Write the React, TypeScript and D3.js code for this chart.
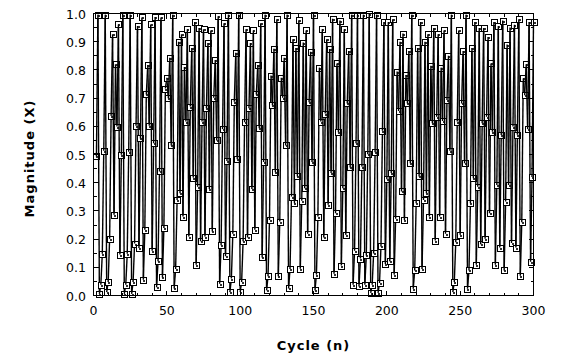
import { useEffect, useRef } from 'react'
import * as d3 from 'd3'

// Magnitude (X); the series starts at cycle 2 and runs to 300
const FIRST_CYCLE = 2
const MAGNITUDE = [
  0.493, 0.996, 0.006, 0.038, 0.148, 0.513, 0.996, 0.012,
  0.048, 0.201, 0.637, 0.926, 0.286, 0.82, 0.599, 0.961, 0.145, 0.499,
  0.996, 0.006, 0.038, 0.148, 0.51, 0.996, 0.006, 0.048, 0.184, 0.602,
  0.956, 0.168, 0.557, 0.986, 0.056, 0.233, 0.713, 0.817, 0.602, 0.961,
  0.159, 0.54, 0.988, 0.029, 0.121, 0.44, 0.986, 0.064, 0.239, 0.734,
  0.772, 0.699, 0.843, 0.532, 0.996, 0.025, 0.094, 0.339, 0.9, 0.363,
  0.926, 0.28, 0.81, 0.617, 0.944, 0.209, 0.67, 0.878, 0.418, 0.97,
  0.109, 0.386, 0.949, 0.192, 0.617, 0.944, 0.209, 0.664, 0.895, 0.378,
  0.94, 0.227, 0.701, 0.835, 0.55, 0.99, 0.042, 0.178, 0.59, 0.965,
  0.139, 0.477, 0.996, 0.012, 0.06, 0.219, 0.687, 0.861, 0.483, 0.996,
  0.012, 0.048, 0.192, 0.614, 0.944, 0.206, 0.664, 0.895, 0.378, 0.94,
  0.233, 0.713, 0.817, 0.593, 0.965, 0.135, 0.473, 0.996, 0.018, 0.068,
  0.268, 0.78, 0.675, 0.875, 0.437, 0.98, 0.068, 0.262, 0.772, 0.701,
  0.843, 0.532, 0.996, 0.025, 0.094, 0.351, 0.909, 0.327, 0.878, 0.422,
  0.976, 0.095, 0.336, 0.897, 0.38, 0.94, 0.219, 0.685, 0.864, 0.473,
  0.996, 0.018, 0.074, 0.28, 0.808, 0.617, 0.944, 0.206, 0.645, 0.909,
  0.322, 0.874, 0.434, 0.981, 0.077, 0.292, 0.823, 0.579, 0.975, 0.106,
  0.38, 0.944, 0.215, 0.681, 0.867, 0.454, 0.996, 0.038, 0.159, 0.54,
  0.996, 0.032, 0.131, 0.457, 0.996, 0.038, 0.142, 0.501, 1.0, 0.009,
  0.038, 0.149, 0.508, 0.996, 0.009, 0.044, 0.174, 0.584, 0.97, 0.112,
  0.412, 0.97, 0.121, 0.434, 0.98, 0.074, 0.272, 0.794, 0.654, 0.9,
  0.369, 0.929, 0.268, 0.782, 0.681, 0.867, 0.469, 0.996, 0.024, 0.089,
  0.327, 0.878, 0.422, 0.97, 0.094, 0.339, 0.9, 0.363, 0.926, 0.28,
  0.815, 0.611, 0.949, 0.195, 0.634, 0.926, 0.28, 0.808, 0.619, 0.94,
  0.219, 0.693, 0.85, 0.513, 0.996, 0.012, 0.048, 0.189, 0.617, 0.94,
  0.215, 0.681, 0.867, 0.469, 0.996, 0.024, 0.089, 0.327, 0.878, 0.416,
  0.97, 0.109, 0.386, 0.949, 0.182, 0.611, 0.949, 0.201, 0.634, 0.917,
  0.292, 0.823, 0.581, 0.97, 0.109, 0.392, 0.956, 0.17, 0.569, 0.975,
  0.089, 0.333, 0.89, 0.392, 0.95, 0.186, 0.599, 0.96, 0.17, 0.57,
  0.98, 0.07, 0.26, 0.77, 0.71, 0.82, 0.59, 0.97, 0.12, 0.42, 0.97,
]

const X_TICKS = [0, 50, 100, 150, 200, 250, 300]
const Y_TICKS = [0, 0.1, 0.2, 0.3, 0.4, 0.5, 0.6, 0.7, 0.8, 0.9, 1.0]

const W = 568
const H = 361
const LABEL_FONT = '"DejaVu Sans", Verdana, sans-serif'

export default function App() {
  const svgRef = useRef<SVGSVGElement | null>(null)

  useEffect(() => {
    if (!svgRef.current) return
    const svg = d3.select(svgRef.current)
    svg.selectAll('*').remove()

    const x = d3.scaleLinear().domain([0, 300]).range([93.5, 533.5])
    const y = d3.scaleLinear().domain([0, 1]).range([295.5, 13.5])
    const [x0, x1] = x.range()
    const [yb, yt] = y.range()

    const pts = MAGNITUDE.map((v, i) => ({ n: FIRST_CYCLE + i, v }))
    const plot = svg.append('g')

    // series: each segment, then its marker, so later lines run over earlier boxes
    pts.forEach((p, i) => {
      if (i > 0) {
        const q = pts[i - 1]
        plot.append('line')
          .attr('x1', x(q.n)).attr('y1', y(q.v))
          .attr('x2', x(p.n)).attr('y2', y(p.v))
          .attr('stroke', '#000').attr('stroke-width', 1.4)
      }
      const m = plot.append('g')
        .attr('transform', `translate(${Math.round(x(p.n))},${Math.round(y(p.v))})`)
        .attr('shape-rendering', 'crispEdges')
      m.append('rect')
        .attr('x', -2.5).attr('y', -2.5).attr('width', 6).attr('height', 6)
        .attr('fill', '#fff').attr('stroke', '#000').attr('stroke-width', 1)
      m.append('rect')
        .attr('x', -0.5).attr('y', -0.5).attr('width', 2).attr('height', 2)
        .attr('fill', '#333')
    })

    // frame
    svg.append('rect')
      .attr('x', x0).attr('y', yt)
      .attr('width', x1 - x0).attr('height', yb - yt)
      .attr('fill', 'none').attr('stroke', '#000').attr('stroke-width', 1)
      .attr('shape-rendering', 'crispEdges')

    const ticks = svg.append('g').attr('stroke', '#000').attr('shape-rendering', 'crispEdges')

    // x ticks every 10, inward on bottom and top
    d3.range(0, 301, 10).forEach(t => {
      const len = t % 50 === 0 ? 5 : 3
      ticks.append('line').attr('x1', x(t)).attr('x2', x(t)).attr('y1', yb).attr('y2', yb - len)
      ticks.append('line').attr('x1', x(t)).attr('x2', x(t)).attr('y1', yt).attr('y2', yt + len)
    })
    // y ticks every 0.05, inward on left and right
    d3.range(0, 21).forEach(k => {
      const t = k / 20
      const len = k % 2 === 0 ? 5 : 3
      ticks.append('line').attr('x1', x0).attr('x2', x0 + len).attr('y1', y(t)).attr('y2', y(t))
      ticks.append('line').attr('x1', x1).attr('x2', x1 - len).attr('y1', y(t)).attr('y2', y(t))
    })

    // tick labels
    svg.append('g')
      .selectAll('text')
      .data(X_TICKS)
      .enter().append('text')
      .attr('x', d => x(d)).attr('y', 315)
      .attr('text-anchor', 'middle')
      .attr('font-family', LABEL_FONT).attr('font-size', 12.5)
      .attr('fill', '#000')
      .text(d => String(d))

    svg.append('g')
      .selectAll('text')
      .data(Y_TICKS)
      .enter().append('text')
      .attr('x', 86).attr('y', d => y(d) + 5)
      .attr('text-anchor', 'end')
      .attr('font-family', LABEL_FONT).attr('font-size', 12.5)
      .attr('fill', '#000')
      .text(d => d3.format('.1f')(d))

    // axis titles
    svg.append('text')
      .attr('x', (x0 + x1) / 2).attr('y', 350)
      .attr('text-anchor', 'middle')
      .attr('font-family', LABEL_FONT).attr('font-size', 13).attr('font-weight', 'bold')
      .attr('letter-spacing', 1)
      .attr('fill', '#000')
      .text('Cycle (n)')

    svg.append('text')
      .attr('transform', `translate(34,${(yb + yt) / 2 + 4}) rotate(-90)`)
      .attr('text-anchor', 'middle')
      .attr('font-family', LABEL_FONT).attr('font-size', 13).attr('font-weight', 'bold')
      .attr('letter-spacing', 1)
      .attr('fill', '#000')
      .text('Magnitude (X)')
  }, [])

  return (
    <svg
      ref={svgRef}
      width={W}
      height={H}
      style={{ position: 'absolute', left: 0, top: 0, background: '#fff', display: 'block' }}
    />
  )
}
